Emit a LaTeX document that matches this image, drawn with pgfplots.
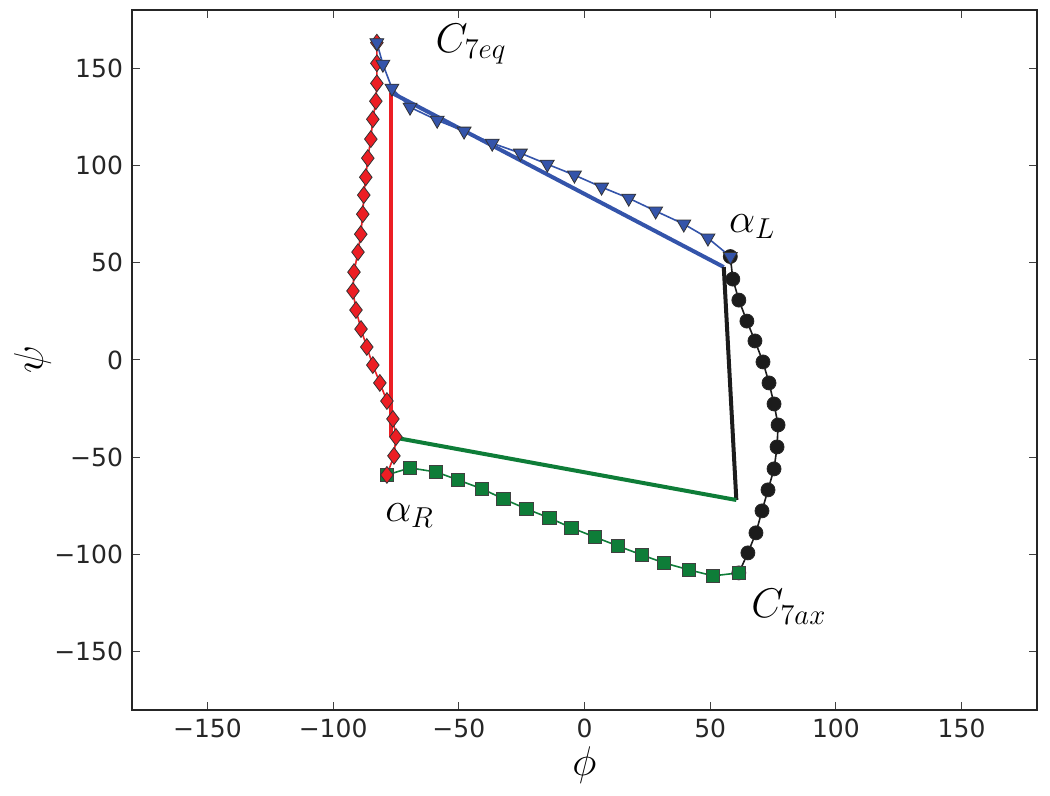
\documentclass[border=0pt]{standalone}
\usepackage{fontspec}
\setmainfont{DejaVu Sans}
\usepackage{pgfplots}
\pgfplotsset{compat=1.18}
\definecolor{cblue}{RGB}{52,84,170}
\definecolor{cred}{RGB}{236,30,36}
\definecolor{cgreen}{RGB}{14,125,56}
\definecolor{cblack}{RGB}{28,28,28}
\begin{document}
\begin{tikzpicture}
\begin{axis}[
  scale only axis, width=452.5pt, height=350pt,
  xmin=-180, xmax=180, ymin=-180, ymax=180,
  xtick={-150,-100,-50,0,50,100,150},
  xticklabels={−150,−100,−50,0,50,100,150},
  ytick={-150,-100,-50,0,50,100,150},
  yticklabels={−150,−100,−50,0,50,100,150},
  tick align=inside, major tick length=4pt,
  tick style={black!75, line width=0.5pt},
  axis line style={line width=0.9pt, black!85},
  tick label style={font=\fontsize{12.5}{14}\selectfont, text=black!85},
  xticklabel style={yshift=-1pt},
  yticklabel style={xshift=-1pt},
  xlabel={$\phi$}, ylabel={$\psi$},
  label style={font=\fontsize{20}{24}\selectfont},
  xlabel style={at={(axis description cs:0.5,-0.0786)}, anchor=center},
  ylabel style={at={(axis description cs:-0.11,0.5)}, anchor=center},
]
% thick quadrilateral
\addplot[cred, line width=2pt, no marks] coordinates {(-76.8,137.5) (-76.8,-39.6)};
\addplot[cblue, line width=2pt, no marks] coordinates {(-76.8,137.5) (55.4,47.8)};
\addplot[cblack, line width=2pt, no marks] coordinates {(55.4,47.8) (60.4,-72.0)};
\addplot[cgreen, line width=2pt, no marks] coordinates {(-76.8,-39.6) (60.4,-72.0)};
% black circles
\addplot[cblack, line width=0.8pt, mark=*, mark size=3.5pt,
  mark options={draw=black!85, fill=cblack, line width=0.4pt}] coordinates {
(58.0,53.2) (59.0,41.6) (61.4,30.8) (64.6,20.0) (67.8,9.8) (71.0,-1.0)
(73.4,-11.8) (75.4,-22.6) (77.0,-33.4) (76.6,-44.7) (75.4,-56.0) (73.0,-66.8)
(70.6,-77.6) (68.2,-88.9) (65.0,-99.2) (61.4,-109.5)};
% green squares
\addplot[cgreen, line width=0.8pt, mark=square*, mark size=3.3pt,
  mark options={draw=black!75, fill=cgreen, line width=0.4pt}] coordinates {
(-78.6,-59.1) (-69.4,-55.5) (-59.0,-57.6) (-50.3,-61.7) (-40.7,-66.3) (-32.3,-71.4)
(-23.1,-76.6) (-14.0,-81.2) (-5.2,-86.3) (4.0,-91.0) (13.2,-95.6) (22.7,-100.2)
(31.5,-104.3) (41.5,-107.9) (51.1,-111.0) (61.4,-109.5)};
% red diamonds
\addplot[cred, line width=0.8pt, mark=diamond*, mark size=4.2pt,
  mark options={draw=black!80, fill=cred, line width=0.4pt}] coordinates {
(-82.6,163.2) (-82.6,152.6) (-82.6,142.3) (-83.0,133.1) (-84.2,123.8) (-85.0,113.6)
(-86.2,103.8) (-87.0,94.0) (-87.8,84.8) (-88.2,75.0) (-89.0,64.7) (-90.1,55.5)
(-91.7,45.2) (-92.1,35.5) (-90.9,25.7) (-88.9,15.9) (-86.6,6.7) (-84.2,-2.6)
(-81.4,-11.8) (-78.6,-21.1) (-76.2,-30.3) (-75.0,-39.6) (-75.8,-49.3) (-78.6,-59.1)};
% blue triangles
\addplot[cblue, line width=0.8pt, mark=triangle*, mark size=4pt,
  mark options={draw=black!80, fill=cblue, line width=0.4pt, rotate=180}] coordinates {
(-82.6,163.2) (-80.2,152.1) (-76.6,139.8) (-69.4,130.0) (-58.6,123.3) (-47.9,117.7)
(-36.7,111.5) (-25.5,106.4) (-14.8,100.7) (-4.0,95.1) (6.8,88.9) (17.6,83.2)
(28.3,76.6) (39.5,69.9) (49.1,62.7) (58.0,53.2)};
% labels
\node[anchor=base west, inner sep=0pt, font=\fontsize{20}{22}\selectfont] at (axis cs:-59.4,158.3) {$C_{7eq}$};
\node[anchor=base west, inner sep=0pt, font=\fontsize{20}{22}\selectfont] at (axis cs:57.4,65.8) {$\alpha_L$};
\node[anchor=base west, inner sep=0pt, font=\fontsize{20}{22}\selectfont] at (axis cs:-79.4,-83.2) {$\alpha_R$};
\node[anchor=base west, inner sep=0pt, font=\fontsize{20}{22}\selectfont] at (axis cs:66.2,-132.6) {$C_{7ax}$};
\end{axis}
\path ([xshift=-66pt,yshift=-43pt]current axis.south west) rectangle ([xshift=6.5pt,yshift=5pt]current axis.north east);
\end{tikzpicture}
\end{document}
